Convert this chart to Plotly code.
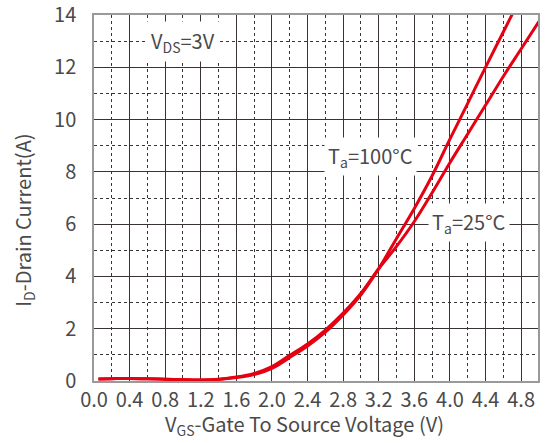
import plotly.graph_objects as go

vgs = [0.05, 0.2, 0.4, 0.6, 0.8, 1.0, 1.2, 1.4, 1.6, 1.8, 2.0, 2.2, 2.4, 2.6, 2.8,
       3.0, 3.2, 3.4, 3.6, 3.8, 4.0, 4.2, 4.4, 4.6, 4.8, 5.0]
id_steep = [0.08, 0.09, 0.10, 0.09, 0.07, 0.05, 0.04, 0.06, 0.13, 0.25, 0.48, 0.90,
            1.34, 1.87, 2.53, 3.30, 4.30, 5.45, 6.60, 7.85, 9.25, 10.62, 12.00, 13.35,
            14.7, 16.0]
id_shallow = [0.08, 0.09, 0.10, 0.09, 0.07, 0.05, 0.04, 0.07, 0.15, 0.29, 0.55, 0.98,
              1.42, 1.95, 2.60, 3.36, 4.30, 5.15, 6.10, 7.20, 8.35, 9.45, 10.55, 11.65,
              12.70, 13.75]

x_ticks = [0.0, 0.4, 0.8, 1.2, 1.6, 2.0, 2.4, 2.8, 3.2, 3.6, 4.0, 4.4, 4.8]
y_ticks = [0, 2, 4, 6, 8, 10, 12, 14]

FONT = "Noto Sans CJK SC"
RED = "#e50012"
TXT = "#4a4a4a"

fig = go.Figure()
fig.add_trace(go.Scatter(x=vgs, y=id_shallow, mode="lines", name="Ta=25°C",
                         line=dict(color=RED, width=3, shape="spline")))
fig.add_trace(go.Scatter(x=vgs, y=id_steep, mode="lines", name="Ta=100°C",
                         line=dict(color=RED, width=3, shape="spline")))

axis_common = dict(
    showline=True, linecolor="#9a9a9a", linewidth=1.5, mirror=True,
    showgrid=True, gridcolor="#3a3333", gridwidth=1,
    zeroline=False, automargin=False, ticklabeloverflow="allow",
    tickfont=dict(family=FONT, size=20, color=TXT),
    minor=dict(showgrid=True, gridcolor="#3a3333", gridwidth=1, griddash="3px,3px"),
)

fig.update_xaxes(
    range=[0, 4.99], tickvals=x_ticks, ticktext=[f"{v:.1f}" for v in x_ticks],
    minor_dtick=0.2, minor_tick0=0,
    ticks="", 
    **axis_common,
)
fig.update_yaxes(
    range=[0, 14], tickvals=y_ticks,
    minor_dtick=1, minor_tick0=0,
    ticks="outside", ticklen=12, tickcolor="rgba(0,0,0,0)",
    **axis_common,
)

title_font = dict(family=FONT, size=20, color=TXT)
fig.add_annotation(xref="paper", yref="paper", x=0.473, y=-0.12,
                   xanchor="center", yanchor="middle", showarrow=False,
                   text="V<sub>GS</sub>-Gate To Source Voltage (V)", font=title_font)
fig.add_annotation(xref="paper", yref="paper", x=-0.158, y=0.44,
                   xanchor="center", yanchor="middle", showarrow=False, textangle=-90,
                   text="I<sub>D</sub>-Drain Current(A)", font=title_font)

ann_font = dict(family=FONT, size=20, color=TXT)
fig.add_annotation(x=1.0, y=13.0, text="V<sub>DS</sub>=3V", showarrow=False,
                   font=ann_font, bgcolor="white", borderpad=4)
fig.add_annotation(x=3.11, y=8.6, text="T<sub>a</sub>=100°C", showarrow=False,
                   font=ann_font, bgcolor="white", borderpad=3)
fig.add_annotation(x=4.22, y=6.05, text="T<sub>a</sub>=25°C", showarrow=False,
                   font=ann_font, bgcolor="white", borderpad=3)

fig.update_layout(
    width=545, height=443,
    margin=dict(l=94, r=7, t=15, b=62),
    paper_bgcolor="white", plot_bgcolor="white",
    showlegend=False,
    font=dict(family=FONT, color=TXT),
)

fig.write_html("out.html", config={"displayModeBar": False},
               post_script="document.body.style.margin='0px';")
